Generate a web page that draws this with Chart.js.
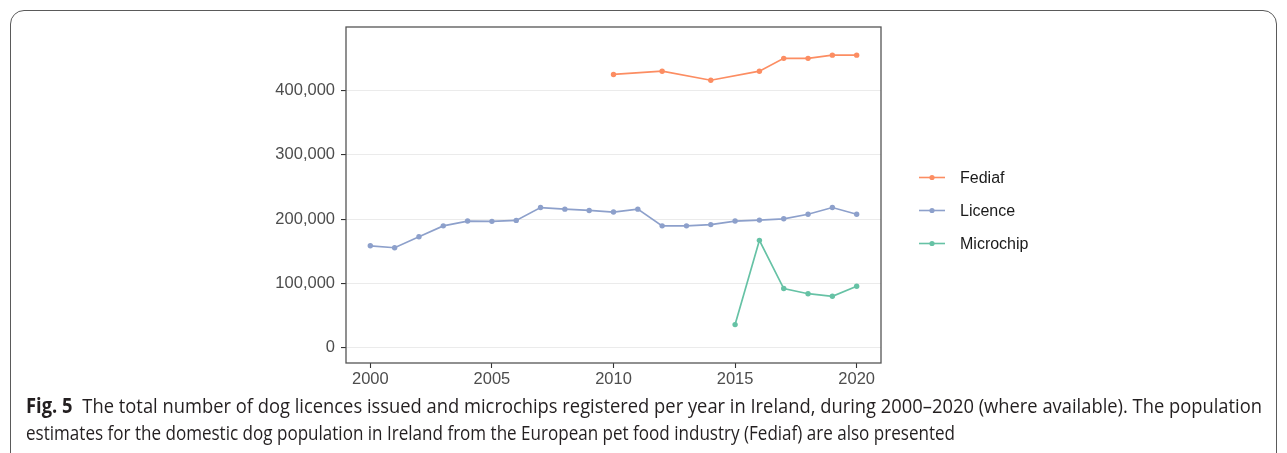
<!DOCTYPE html>
<html>
<head>
<meta charset="utf-8">
<script src="https://cdn.jsdelivr.net/npm/chart.js@4.4.1/dist/chart.umd.min.js"></script>
<style>
  html, body { margin: 0; padding: 0; background: #fff; width: 1287px; height: 453px; overflow: hidden; }
  #frame { position: absolute; left: 10px; top: 10px; width: 1267px; height: 470px;
           border: 1px solid #5a5a5a; border-radius: 14px; box-sizing: border-box; }
  #wrap { position: absolute; left: 0; top: 0; width: 1287px; height: 453px; }
  .cap { position: absolute; left: 26px; font-family: "Open Sans", "Noto Sans", sans-serif;
         font-size: 20.5px; line-height: 1; color: #231f20; white-space: nowrap; transform-origin: 0 0; }
  .cap b { font-weight: 700; margin-right: 11px; }
</style>
</head>
<body>
<div id="frame"></div>
<div id="wrap"><canvas id="chart" width="1287" height="453"></canvas></div>
<div class="cap" id="cap1" style="top:395px"><b>Fig. 5</b>The total number of dog licences issued and microchips registered per year in Ireland, during 2000–2020 (where available). The population</div>
<div class="cap" id="cap2" style="top:422px">estimates for the domestic dog population in Ireland from the European pet food industry (Fediaf) are also presented</div>
<script>
// Years and counts per source
const fediafYears = [2010, 2012, 2014, 2016, 2017, 2018, 2019, 2020];
const fediafValues = [425000, 430000, 416000, 430000, 450000, 450000, 455000, 455000];

const licenceYears = [2000, 2001, 2002, 2003, 2004, 2005, 2006, 2007, 2008, 2009, 2010,
                      2011, 2012, 2013, 2014, 2015, 2016, 2017, 2018, 2019, 2020];
const licenceValues = [158500, 155500, 172500, 189500, 197000, 196500, 198000, 218000, 215500, 213500, 211000,
                       215500, 189500, 189500, 191500, 197000, 198500, 200500, 207500, 218000, 207500];

const microchipYears = [2015, 2016, 2017, 2018, 2019, 2020];
const microchipValues = [36000, 167000, 92000, 84000, 80000, 95500];

const xTicks = [2000, 2005, 2010, 2015, 2020];
const yTicks = [0, 100000, 200000, 300000, 400000];

const seriesNames = ['Fediaf', 'Licence', 'Microchip'];
const seriesColors = ['#fc8d62', '#8da0cb', '#66c2a5'];

const toPoints = (xs, ys) => xs.map((x, i) => ({ x: x, y: ys[i] }));
const allSeries = [
  toPoints(fediafYears, fediafValues),
  toPoints(licenceYears, licenceValues),
  toPoints(microchipYears, microchipValues)
];

const axisFont = { family: '"Liberation Sans", Arial, sans-serif', size: 16.5 };
const fmt = v => v.toLocaleString('en-US');

// Panel border drawn on top of the lines
const panelBorder = {
  id: 'panelBorder',
  afterDatasetsDraw(chart) {
    const { ctx, chartArea: a } = chart;
    ctx.save();
    ctx.strokeStyle = '#555555';
    ctx.lineWidth = 1.3;
    ctx.strokeRect(a.left, a.top, a.right - a.left, a.bottom - a.top);
    ctx.restore();
  }
};

// Legend at the right of the panel: line with a dot, then the series name
const sideLegend = {
  id: 'sideLegend',
  afterDraw(chart) {
    const { ctx } = chart;
    const x0 = 919, x1 = 945, tx = 960, y0 = 177.5, step = 33;
    ctx.save();
    chart.data.datasets.forEach((ds, i) => {
      const y = y0 + i * step;
      ctx.strokeStyle = ds.borderColor;
      ctx.lineWidth = 1.6;
      ctx.beginPath(); ctx.moveTo(x0, y); ctx.lineTo(x1, y); ctx.stroke();
      ctx.fillStyle = ds.borderColor;
      ctx.beginPath(); ctx.arc((x0 + x1) / 2, y, 2.6, 0, Math.PI * 2); ctx.fill();
      ctx.fillStyle = '#1a1a1a';
      ctx.font = '16px "Liberation Sans", Arial, sans-serif';
      ctx.textAlign = 'left';
      ctx.textBaseline = 'middle';
      ctx.fillText(ds.label, tx, y + 1);
    });
    ctx.restore();
  }
};

new Chart(document.getElementById('chart'), {
  type: 'line',
  data: {
    datasets: seriesNames.map((name, i) => ({
      label: name,
      data: allSeries[i],
      borderColor: seriesColors[i],
      backgroundColor: seriesColors[i],
      pointBackgroundColor: seriesColors[i],
      borderWidth: 1.7,
      pointRadius: 2.7,
      pointBorderWidth: 0,
      tension: 0,
      fill: false
    }))
  },
  options: {
    responsive: false,
    animation: false,
    devicePixelRatio: 1,
    layout: { padding: { left: 0, top: 27, right: 406, bottom: 60 } },
    plugins: { legend: { display: false }, tooltip: { enabled: false } },
    scales: {
      x: {
        type: 'linear',
        min: 1999, max: 2021,
        afterFit: s => { s.height = 30; },
        afterBuildTicks: s => { s.ticks = xTicks.map(v => ({ value: v })); },
        grid: { drawOnChartArea: false, drawTicks: true, tickLength: 5, tickColor: '#333333', tickWidth: 1.1 },
        border: { display: false },
        ticks: { font: axisFont, color: '#4d4d4d', padding: 2, maxRotation: 0, callback: v => String(v) }
      },
      y: {
        type: 'linear',
        min: -23750, max: 498750,
        afterFit: s => { s.width = 346; },
        afterBuildTicks: s => { s.ticks = yTicks.map(v => ({ value: v })); },
        grid: { color: '#ebebeb', lineWidth: 1.1, drawTicks: true, tickLength: 5, tickColor: '#333333', tickWidth: 1.1 },
        border: { display: false },
        ticks: { font: axisFont, color: '#4d4d4d', padding: 6, callback: v => fmt(v) }
      }
    }
  },
  plugins: [panelBorder, sideLegend]
});

// Fit each caption line to its measured extent
function fitLine(id, target) {
  const el = document.getElementById(id);
  const w = el.getBoundingClientRect().width;
  el.style.transform = 'scaleX(' + (target / w) + ')';
}
function fitCaption() {
  fitLine('cap1', 1236);
  fitLine('cap2', 929);
}
if (document.fonts && document.fonts.ready) document.fonts.ready.then(fitCaption); else fitCaption();
</script>
</body>
</html>
